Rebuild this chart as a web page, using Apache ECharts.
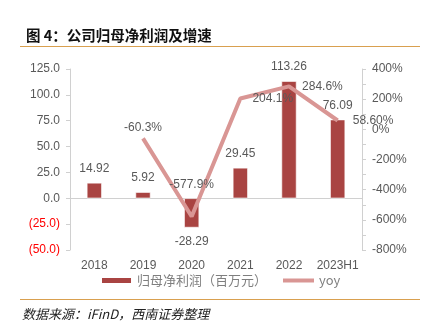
<!DOCTYPE html>
<html>
<head>
<meta charset="utf-8">
<script src="https://cdn.jsdelivr.net/npm/echarts@6/dist/echarts.min.js"></script>
<style>
  html, body { margin: 0; padding: 0; background: #fff; }
  #chart { width: 426px; height: 332px; }
</style>
</head>
<body>
<div id="chart"></div>
<script>
// Net profit attributable to parent (million yuan) and YoY growth
const categories = ['2018', '2019', '2020', '2021', '2022', '2023H1'];
const netProfit = [14.92, 5.92, -28.29, 29.45, 113.26, 76.09];
const yoyPct = [null, -60.3, -577.9, 204.1, 284.6, 58.60];
const yoyLabels = ['', '-60.3%', '-577.9%', '204.1%', '284.6%', '58.60%'];

const barColor = '#a94442';
const lineColor = '#d99694';
const textColor = '#595959';
const fontFamily = '"Liberation Sans", Arial, "Noto Sans CJK SC", sans-serif';

// label placement around each yoy point
const yoyLabelPos = [
  null,
  { position: 'top', distance: 5, offset: [-5, 0] },
  { position: 'top', distance: 26, offset: [4, 0] },
  { position: 'right', distance: 12, offset: [0, 2] },
  { position: 'right', distance: 13, offset: [0, 0] },
  { position: 'right', distance: 15, offset: [0, 0] }
];

const chart = echarts.init(document.getElementById('chart'), null, { renderer: 'canvas' });

const option = {
  animation: false,
  textStyle: { fontFamily: fontFamily },
  title: {
    text: '图 4：公司归母净利润及增速',
    left: 21, top: 23,
    textStyle: { fontSize: 14.5, fontWeight: 'bold', color: '#111', fontFamily: '"Noto Sans CJK SC", sans-serif' }
  },
  graphic: [
    { type: 'line', shape: { x1: 20, y1: 46.5, x2: 420, y2: 46.5 }, style: { stroke: '#d9a04f', lineWidth: 1.2 } },
    { type: 'line', shape: { x1: 20, y1: 299.5, x2: 420, y2: 299.5 }, style: { stroke: '#d9a04f', lineWidth: 1.2 } },
    { type: 'text', left: 22, top: 308,
      style: { text: '数据来源：iFinD，西南证券整理', fill: '#222', font: 'italic 13px "Noto Sans CJK SC", sans-serif' } }
  ],
  legend: {
    top: 269, left: 95,
    itemGap: 16,
    itemWidth: 31, itemHeight: 7,
    textStyle: { color: '#7f7f7f', fontSize: 13, fontFamily: '"Noto Sans CJK SC", sans-serif' },
    data: [
      { name: '归母净利润（百万元）', icon: 'rect' },
      { name: 'yoy', icon: 'path://M0,0 L31,0 L31,4 L0,4 Z' }
    ]
  },
  grid: { left: 70, right: 64, top: 69, bottom: 82 },
  xAxis: {
    type: 'category',
    data: categories,
    axisLine: { lineStyle: { color: '#d0d0d0' } },
    axisTick: { show: false },
    axisLabel: { color: textColor, fontSize: 12, margin: 10, interval: 0 }
  },
  yAxis: [
    {
      type: 'value', min: -50, max: 125, interval: 25,
      splitLine: { show: false },
      axisLine: { show: true, lineStyle: { color: '#d0d0d0' } },
      axisTick: { show: true, length: 4, lineStyle: { color: '#d0d0d0' } },
      axisLabel: {
        fontSize: 12, margin: 10,
        formatter: v => v < 0 ? '(' + Math.abs(v).toFixed(1) + ')' : v.toFixed(1),
        color: v => (v < 0 ? '#ff0000' : textColor)
      }
    },
    {
      type: 'value', min: -800, max: 400, interval: 200,
      splitLine: { show: false },
      axisLine: { show: true, lineStyle: { color: '#d0d0d0' } },
      axisTick: { show: true, length: 4, lineStyle: { color: '#d0d0d0' } },
      minorTick: { show: true, splitNumber: 2, length: 4, lineStyle: { color: '#d0d0d0' } },
      axisLabel: { color: textColor, fontSize: 12, margin: 10, formatter: v => v + '%' }
    }
  ],
  series: [
    {
      name: '归母净利润（百万元）',
      type: 'bar',
      data: netProfit.map(v => ({
        value: v,
        label: v < 0 ? { position: 'bottom', distance: 8 } : { position: 'top', distance: 8 }
      })),
      barWidth: 15,
      itemStyle: { color: barColor, borderColor: '#ffffff', borderWidth: 0.6 },
      label: {
        show: true,
        color: textColor, fontSize: 12,
        formatter: p => p.value.toFixed(2)
      },
      z: 2
    },
    {
      name: 'yoy',
      type: 'line',
      yAxisIndex: 1,
      data: yoyPct.map((v, i) => ({
        value: v,
        label: yoyLabelPos[i] ? Object.assign({ show: true }, yoyLabelPos[i]) : { show: false }
      })),
      connectNulls: false,
      symbol: 'circle',
      symbolSize: 0.1,
      showSymbol: true,
      lineStyle: { color: lineColor, width: 4 },
      itemStyle: { color: lineColor },
      label: {
        color: textColor, fontSize: 12,
        formatter: p => yoyLabels[p.dataIndex]
      },
      labelLayout: { hideOverlap: false },
      z: 3
    }
  ]
};

chart.setOption(option);
</script>
</body>
</html>
